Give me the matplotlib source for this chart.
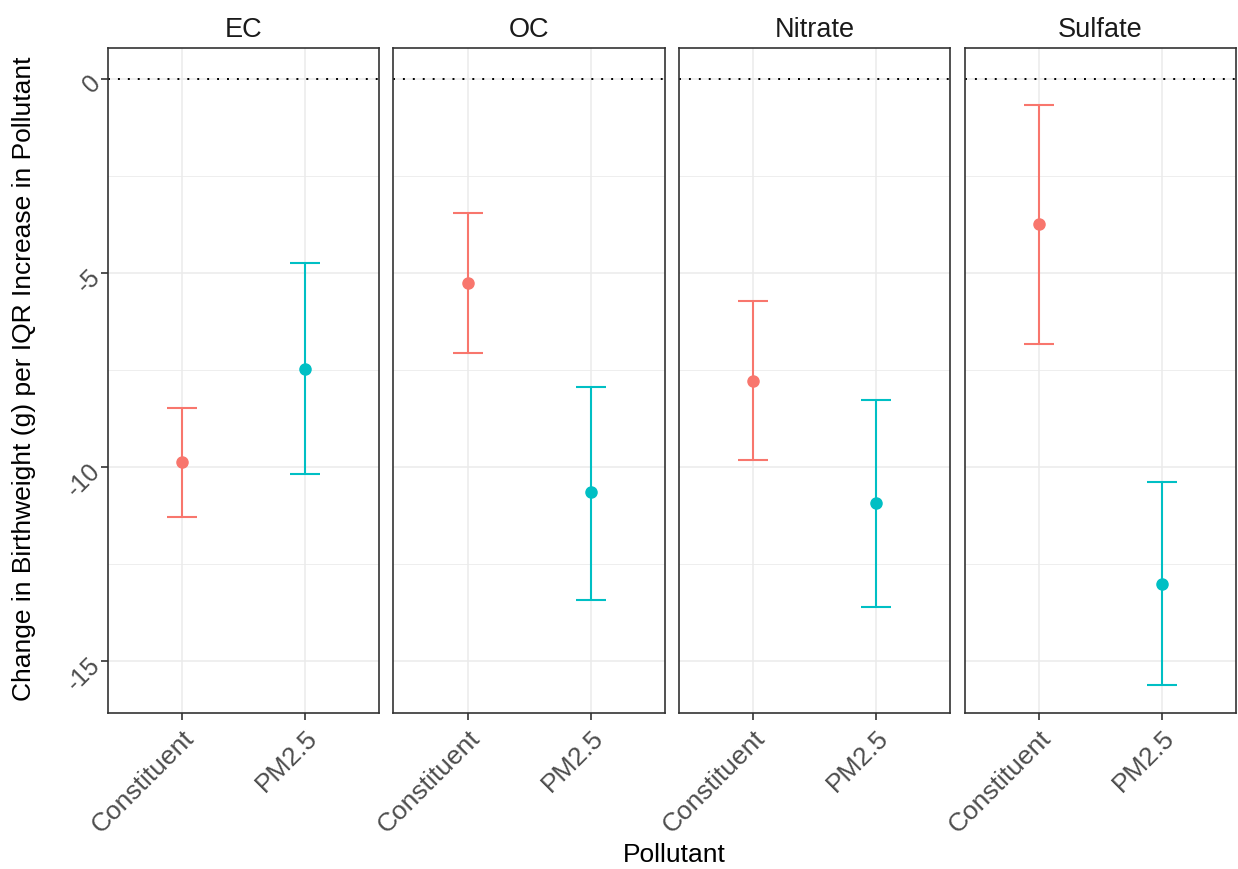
import numpy as np
import matplotlib
matplotlib.use('Agg')
import matplotlib.pyplot as plt

plt.rcParams['font.family'] = ['Liberation Sans', 'DejaVu Sans']
plt.rcParams['axes.unicode_minus'] = False

pollutants = ['EC', 'OC', 'Nitrate', 'Sulfate']
groups = ['Constituent', 'PM2.5']
colors = ['#F8766D', '#00BFC4']

# estimates, lower and upper bounds per pollutant: [Constituent, PM2.5]
est = [[-9.87, -7.47], [-5.26, -10.64], [-7.78, -10.93], [-3.74, -13.02]]
lower = [[-11.29, -10.18], [-7.06, -13.43], [-9.82, -13.61], [-6.83, -15.62]]
upper = [[-8.48, -4.74], [-3.45, -7.94], [-5.72, -8.27], [-0.67, -10.39]]

fig, axes = plt.subplots(1, 4, figsize=(12.38, 8.69), dpi=100, sharey=True)
fig.subplots_adjust(left=0.0872, right=0.9984, top=0.9448, bottom=0.1795, wspace=0.052)

x = np.arange(1, len(groups) + 1)
for k, ax in enumerate(axes):
    ax.set_xlim(0.4, 2.6)
    ax.set_ylim(-16.34, 0.8)
    ax.set_yticks([0, -5, -10, -15])
    ax.set_yticks([-2.5, -7.5, -12.5], minor=True)
    ax.set_xticks(x)
    ax.grid(True, which='major', color='#ebebeb', lw=1.1, zorder=0)
    ax.grid(True, which='minor', axis='y', color='#ebebeb', lw=0.6, zorder=0)
    ax.set_axisbelow(True)
    for s in ax.spines.values():
        s.set_color('#333333')
        s.set_linewidth(1.2)
    ax.axhline(0, color='black', ls=(0, (1, 4.1)), lw=1.4, zorder=1)
    for i in range(len(groups)):
        e = est[k][i]
        ax.errorbar(x[i], e, yerr=[[e - lower[k][i]], [upper[k][i] - e]],
                    fmt='o', color=colors[i], ms=8, lw=1.5, capsize=11,
                    capthick=1.5, zorder=3)
    ax.set_title(pollutants[k], fontsize=19.5, color='#1a1a1a', pad=8)
    ax.set_xticklabels(groups, rotation=45, ha='right', va='top',
                       rotation_mode='anchor', fontsize=19, color='#4d4d4d')
    ax.tick_params(axis='x', length=5, width=1.2, color='#333333', pad=4)
    ax.tick_params(axis='y', which='minor', length=0)
    if k == 0:
        ax.tick_params(axis='y', length=5, width=1.2, color='#333333', pad=3)
        for lbl in ax.get_yticklabels():
            lbl.set_rotation(45)
            lbl.set_fontsize(18)
            lbl.set_color('#4d4d4d')
            lbl.set_va('center')
            lbl.set_ha('right')
            lbl.set_rotation_mode('anchor')
    else:
        ax.tick_params(axis='y', length=0)

fig.supxlabel('Pollutant', fontsize=19, x=0.545, y=0.002)
fig.supylabel('Change in Birthweight (g) per IQR Increase in Pollutant',
              fontsize=19, x=0.01, y=0.564)

fig.savefig('out.png', dpi=100)
